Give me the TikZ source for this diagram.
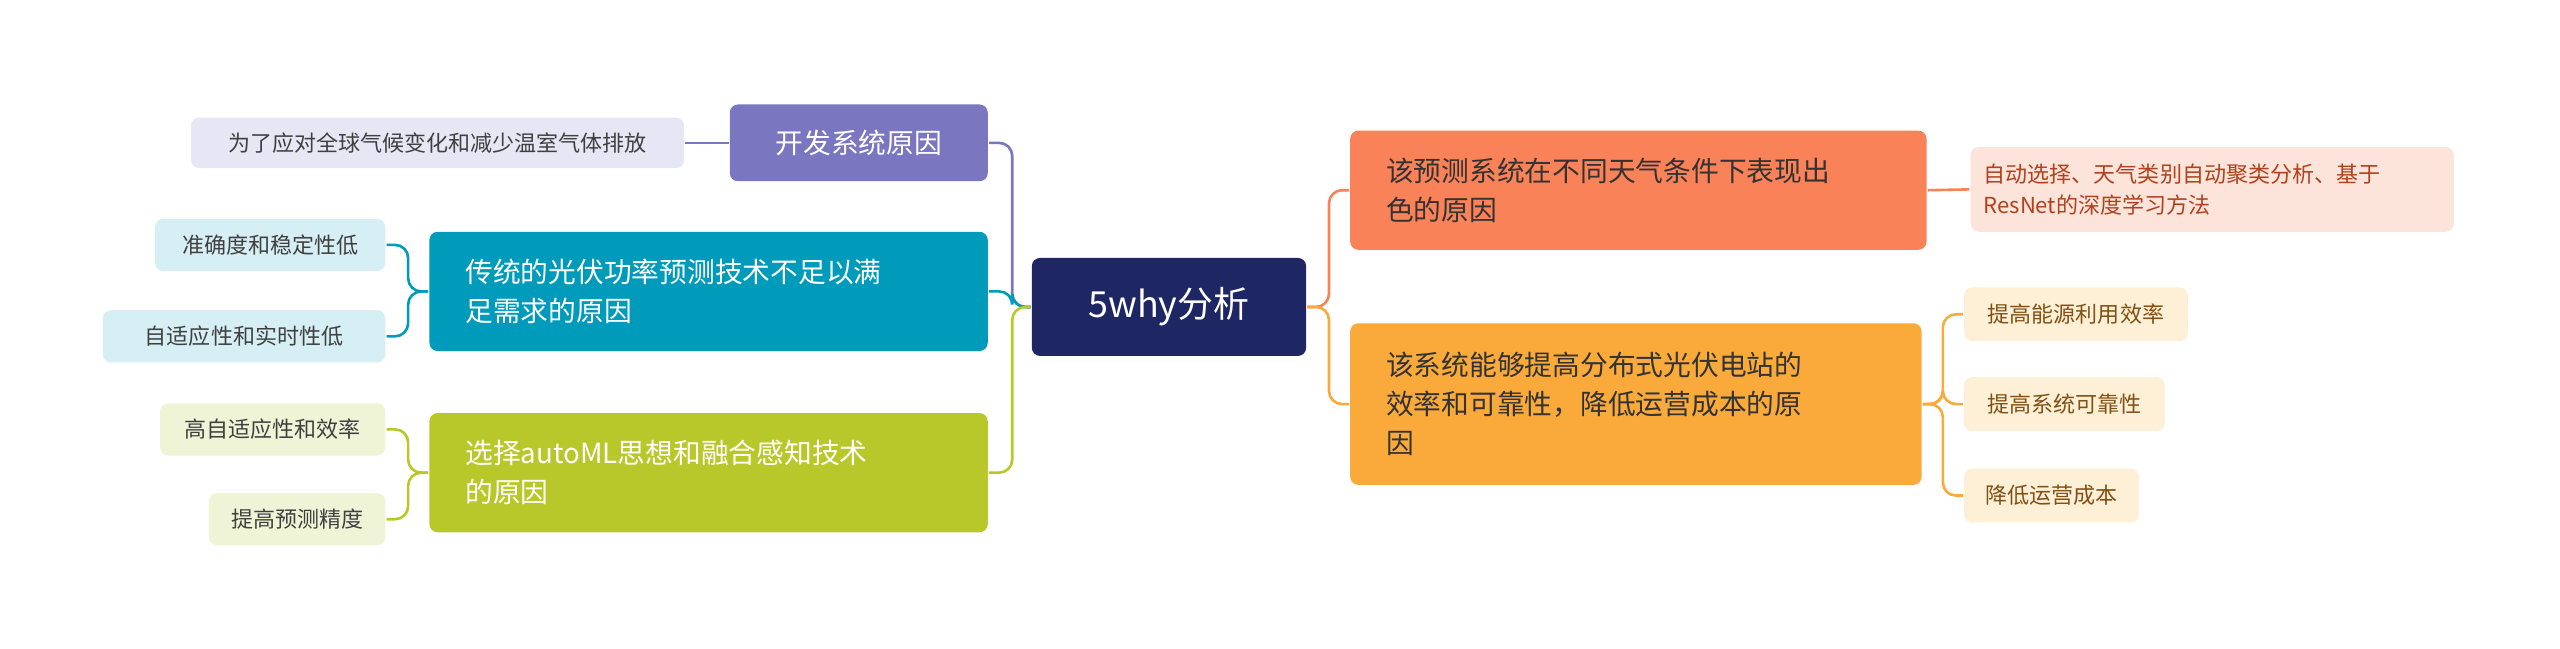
\documentclass[tikz,border=0pt]{standalone}
\usepackage{fontspec}
\setmainfont{Noto Sans CJK SC}
\definecolor{navy}{RGB}{30,38,100}
\definecolor{purp}{RGB}{122,118,192}
\definecolor{teal}{RGB}{0,155,187}
\definecolor{olive}{RGB}{184,200,42}
\definecolor{orng}{RGB}{250,130,88}
\definecolor{gold}{RGB}{250,170,58}
\tikzset{
  every picture/.style={line width=1.6pt},
  box/.style={rounded corners=5pt, inner xsep=22pt, inner ysep=0pt, align=left, font=\fontsize{17}{24}\selectfont, text=white},
  leaf/.style={rounded corners=5pt, inner xsep=8pt, inner ysep=0pt, font=\fontsize{13.5}{19}\selectfont, text=black!75, align=left},
}
\begin{document}
\begin{tikzpicture}[x=1pt,y=-1pt]
	\useasboundingbox (0,0) rectangle (1568,397);

	% centre
	\node [fill=navy, rounded corners=5pt, text=white, minimum width=168, minimum height=60, font=\fontsize{22}{26}\selectfont] (root) at (716,188) {5why分析};

	% left branches
	\node [box, fill=purp, inner xsep=12pt, minimum width=158, minimum height=47] (why1) at (526,87.5) {开发系统原因};
	\node [box, fill=teal, text width=298, minimum height=73] (why2) at (434,178.5) {传统的光伏功率预测技术不足以满\\足需求的原因};
	\node [box, fill=olive, text width=298, minimum height=73] (why3) at (434,289.5) {选择autoML思想和融合感知技术\\的原因};

	% right branches
	\node [box, fill=orng, text=black!80, text width=309, minimum height=73] (why4) at (1003.5,116.5) {该预测系统在不同天气条件下表现出\\色的原因};
	\node [box, fill=gold, text=black!80, text width=306, minimum height=99] (why5) at (1002,247.5) {该系统能够提高分布式光伏电站的\\效率和可靠性，降低运营成本的原\\因};

	% leaves
	\node [leaf, fill={rgb,255:red,231;green,230;blue,245}, minimum width=302, minimum height=31] (l1) at (268,87.5) {为了应对全球气候变化和减少温室气体排放};
	\node [leaf, fill={rgb,255:red,214;green,239;blue,245}, minimum width=141, minimum height=32] (l2) at (165.5,150) {准确度和稳定性低};
	\node [leaf, fill={rgb,255:red,214;green,239;blue,245}, minimum width=173, minimum height=32] (l3) at (149.5,206) {自适应性和实时性低};
	\node [leaf, fill={rgb,255:red,240;green,244;blue,215}, minimum width=138, minimum height=32] (l4) at (167,263) {高自适应性和效率};
	\node [leaf, fill={rgb,255:red,240;green,244;blue,215}, minimum width=108, minimum height=32] (l5) at (182,318) {提高预测精度};
	\node [leaf, fill={rgb,255:red,253;green,228;blue,218}, text={rgb,255:red,175;green,65;blue,30}, text width=280, minimum height=52] (l6) at (1355,116) {自动选择、天气类别自动聚类分析、基于\\ResNet的深度学习方法};
	\node [leaf, fill={rgb,255:red,253;green,240;blue,214}, text={rgb,255:red,130;green,80;blue,20}, minimum width=137, minimum height=33] (l7) at (1271.5,192.5) {提高能源利用效率};
	\node [leaf, fill={rgb,255:red,253;green,240;blue,214}, text={rgb,255:red,130;green,80;blue,20}, minimum width=123, minimum height=33] (l8) at (1264.5,247.5) {提高系统可靠性};
	\node [leaf, fill={rgb,255:red,253;green,240;blue,214}, text={rgb,255:red,130;green,80;blue,20}, minimum width=107, minimum height=33] (l9) at (1256.5,303.5) {降低运营成本};

	% connectors
	\draw [purp, rounded corners=8] (root.west) -- (620,188) |- (why1.east);
	\draw [teal, rounded corners=8] (root.west) -- (620,188) |- (why2.east);
	\draw [olive, rounded corners=8] (root.west) -- (620,188) |- (why3.east);
	\draw [orng, rounded corners=8] (root.east) -- (814,188) |- (why4.west);
	\draw [gold, rounded corners=8] (root.east) -- (814,188) |- (why5.west);

	\draw [purp] (why1.west) -- (l1.east);
	\draw [teal, rounded corners=8] (why2.west) -- (250,178.5) |- (l2.east);
	\draw [teal, rounded corners=8] (why2.west) -- (250,178.5) |- (l3.east);
	\draw [olive, rounded corners=8] (why3.west) -- (250,289.5) |- (l4.east);
	\draw [olive, rounded corners=8] (why3.west) -- (250,289.5) |- (l5.east);
	\draw [orng] (why4.east) -- (l6.west);
	\draw [gold, rounded corners=8] (why5.east) -- (1190,247.5) |- (l7.west);
	\draw [gold, rounded corners=8] (why5.east) -- (1190,247.5) |- (l8.west);
	\draw [gold, rounded corners=8] (why5.east) -- (1190,247.5) |- (l9.west);
\end{tikzpicture}
\end{document}
